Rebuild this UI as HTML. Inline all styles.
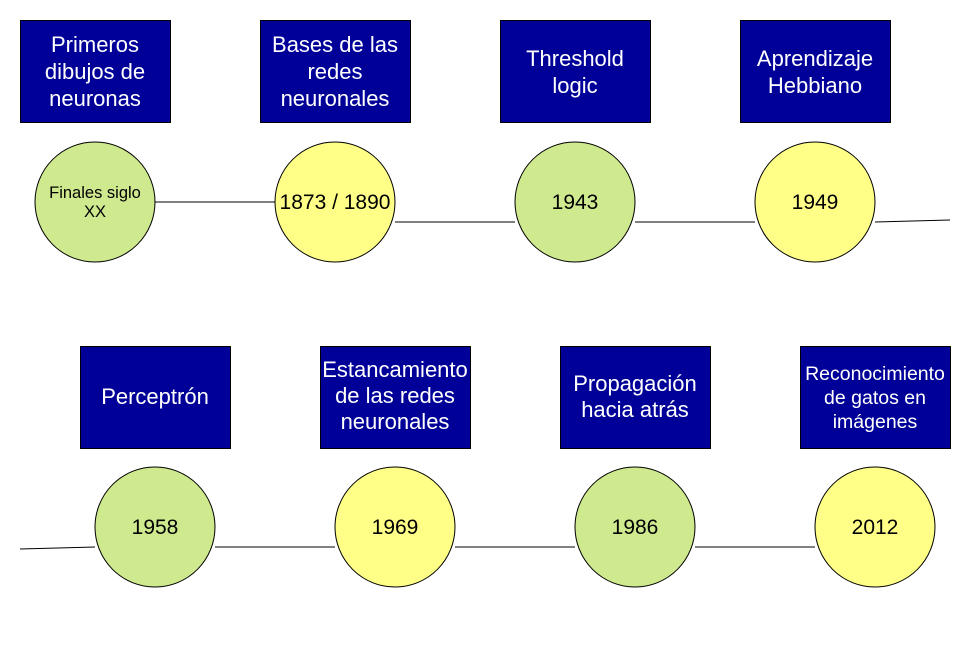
<!DOCTYPE html>
<html><head><meta charset="utf-8"><style>
body{margin:0;background:#fff;}
svg{display:block;font-family:"Liberation Sans",sans-serif;}
</style></head><body>
<svg width="973" height="651" viewBox="0 0 973 651">
<g stroke="#000" stroke-width="1" fill="none">
<line x1="155" y1="202" x2="275" y2="202"/>
<line x1="395" y1="222" x2="515" y2="222"/>
<line x1="635" y1="222" x2="755" y2="222"/>
<line x1="875" y1="222" x2="950" y2="220"/>
<line x1="20" y1="549" x2="95" y2="547"/>
<line x1="215" y1="547" x2="335" y2="547"/>
<line x1="455" y1="547" x2="575" y2="547"/>
<line x1="695" y1="547" x2="815" y2="547"/>
</g>
<g fill="#000099" stroke="#000" stroke-width="1">
<rect x="20.5" y="20.5" width="150" height="102"/>
<rect x="260.5" y="20.5" width="150" height="102"/>
<rect x="500.5" y="20.5" width="150" height="102"/>
<rect x="740.5" y="20.5" width="150" height="102"/>
<rect x="80.5" y="346.5" width="150" height="102"/>
<rect x="320.5" y="346.5" width="150" height="102"/>
<rect x="560.5" y="346.5" width="150" height="102"/>
<rect x="800.5" y="346.5" width="150" height="102"/>
</g>
<g stroke="#000" stroke-width="1">
<circle cx="95" cy="202" r="60" fill="#cfe98f"/>
<circle cx="335" cy="202" r="60" fill="#ffff88"/>
<circle cx="575" cy="202" r="60" fill="#cfe98f"/>
<circle cx="815" cy="202" r="60" fill="#ffff88"/>
<circle cx="155" cy="527" r="60" fill="#cfe98f"/>
<circle cx="395" cy="527" r="60" fill="#ffff88"/>
<circle cx="635" cy="527" r="60" fill="#cfe98f"/>
<circle cx="875" cy="527" r="60" fill="#ffff88"/>
</g>
<g fill="#fff" font-size="22" text-anchor="middle">
<text x="95" y="52">Primeros</text><text x="95" y="79">dibujos de</text><text x="95" y="106">neuronas</text>
<text x="335" y="52">Bases de las</text><text x="335" y="79">redes</text><text x="335" y="106">neuronales</text>
<text x="575" y="66">Threshold</text><text x="575" y="93">logic</text>
<text x="815" y="66">Aprendizaje</text><text x="815" y="93">Hebbiano</text>
<text x="155" y="404">Perceptrón</text>
<text x="395" y="377">Estancamiento</text><text x="395" y="403">de las redes</text><text x="395" y="429">neuronales</text>
<text x="635" y="391">Propagación</text><text x="635" y="417">hacia atrás</text>
</g>
<g fill="#fff" font-size="19.5" text-anchor="middle">
<text x="875" y="380">Reconocimiento</text><text x="875" y="404">de gatos en</text><text x="875" y="428">imágenes</text>
</g>
<g fill="#000" font-size="21" text-anchor="middle">
<text x="335" y="209">1873 / 1890</text>
<text x="575" y="209">1943</text>
<text x="815" y="209">1949</text>
<text x="155" y="534">1958</text>
<text x="395" y="534">1969</text>
<text x="635" y="534">1986</text>
<text x="875" y="534">2012</text>
</g>
<g fill="#000" font-size="16.5" text-anchor="middle">
<text x="95" y="198">Finales siglo</text><text x="95" y="217">XX</text>
</g>
</svg>
</body></html>
